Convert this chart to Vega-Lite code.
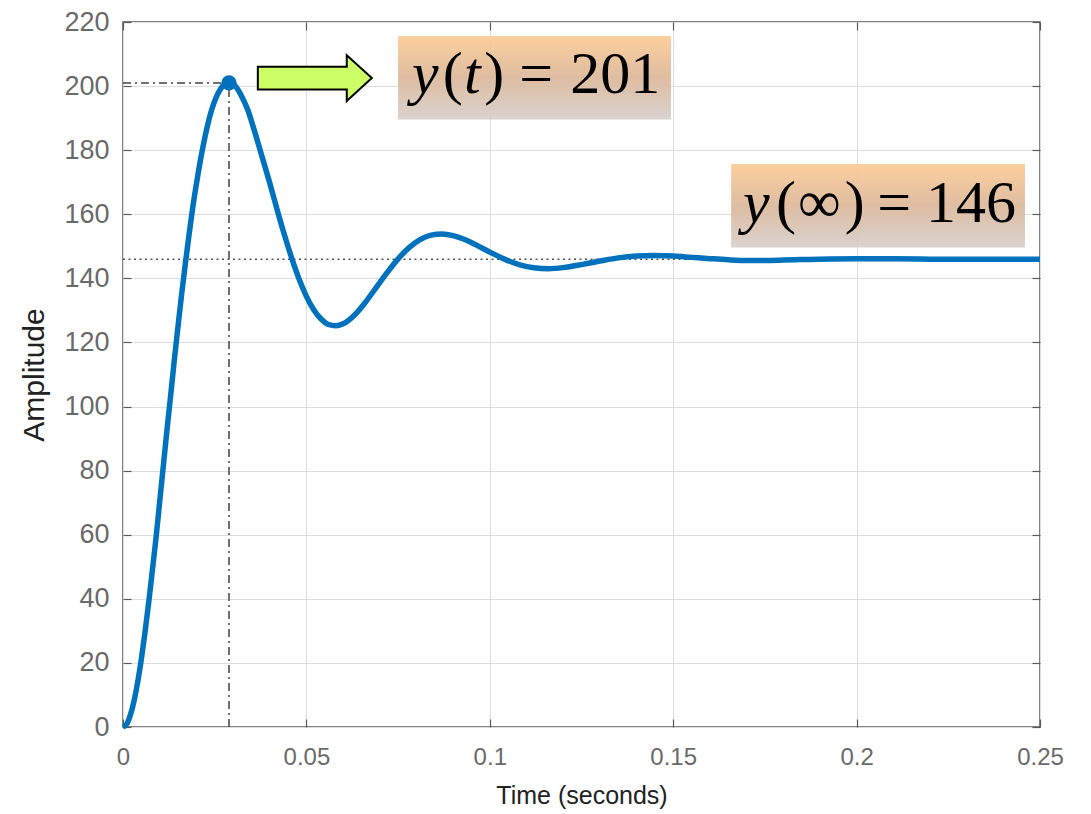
{
  "$schema": "https://vega.github.io/schema/vega-lite/v6.json",
  "width": 917,
  "height": 705,
  "autosize": {"type": "none"},
  "padding": {"left": 123, "top": 22, "right": 51, "bottom": 87},
  "background": "white",
  "config": {
    "view": {"stroke": "#5a5a5a", "strokeWidth": 1.5},
    "axis": {
      "labelFont": "Liberation Sans",
      "titleFont": "Liberation Sans",
      "labelColor": "#6a6a6a",
      "titleColor": "#222222",
      "titleFontWeight": "normal",
      "tickColor": "#5a5a5a",
      "tickWidth": 1.2,
      "domain": false,
      "labelFlush": false,
      "gridColor": "#dedede",
      "gridWidth": 1,
      "gridOpacity": 1
    }
  },
  "datasets": {
    "curve": [
      {"t": 0, "amp": 0}, {"t": 0.001, "amp": 0.9}, {"t": 0.002, "amp": 3.7}, {"t": 0.003, "amp": 8.1},
      {"t": 0.004, "amp": 14.0}, {"t": 0.005, "amp": 21.2}, {"t": 0.006, "amp": 29.5}, {"t": 0.007, "amp": 38.8},
      {"t": 0.008, "amp": 48.8}, {"t": 0.009, "amp": 59.0}, {"t": 0.010, "amp": 70.3}, {"t": 0.011, "amp": 81.5},
      {"t": 0.012, "amp": 92.8}, {"t": 0.013, "amp": 103.5}, {"t": 0.014, "amp": 114.6}, {"t": 0.015, "amp": 125.0},
      {"t": 0.016, "amp": 135.2}, {"t": 0.017, "amp": 144.6}, {"t": 0.018, "amp": 153.6}, {"t": 0.019, "amp": 162.0},
      {"t": 0.020, "amp": 169.4}, {"t": 0.022, "amp": 182.2}, {"t": 0.024, "amp": 191.9}, {"t": 0.026, "amp": 197.9},
      {"t": 0.028, "amp": 200.8}, {"t": 0.029, "amp": 201.1}, {"t": 0.030, "amp": 200.7}, {"t": 0.032, "amp": 197.6},
      {"t": 0.034, "amp": 192.6}, {"t": 0.036, "amp": 185.4}, {"t": 0.038, "amp": 177.6}, {"t": 0.040, "amp": 169.8},
      {"t": 0.042, "amp": 161.5}, {"t": 0.044, "amp": 153.6}, {"t": 0.046, "amp": 146.3}, {"t": 0.048, "amp": 139.8},
      {"t": 0.050, "amp": 134.4}, {"t": 0.052, "amp": 130.2}, {"t": 0.054, "amp": 127.3}, {"t": 0.056, "amp": 125.6},
      {"t": 0.058, "amp": 125.2}, {"t": 0.060, "amp": 125.8}, {"t": 0.063, "amp": 128.4}, {"t": 0.066, "amp": 132.4},
      {"t": 0.069, "amp": 137.1}, {"t": 0.072, "amp": 141.8}, {"t": 0.075, "amp": 146.1}, {"t": 0.078, "amp": 149.6},
      {"t": 0.081, "amp": 152.1}, {"t": 0.084, "amp": 153.5}, {"t": 0.087, "amp": 153.85}, {"t": 0.090, "amp": 153.35},
      {"t": 0.093, "amp": 152.2}, {"t": 0.096, "amp": 150.6}, {"t": 0.100, "amp": 148.2}, {"t": 0.104, "amp": 146.0},
      {"t": 0.108, "amp": 144.3}, {"t": 0.112, "amp": 143.3}, {"t": 0.116, "amp": 143.0}, {"t": 0.120, "amp": 143.35},
      {"t": 0.125, "amp": 144.3}, {"t": 0.130, "amp": 145.4}, {"t": 0.135, "amp": 146.4}, {"t": 0.140, "amp": 146.95},
      {"t": 0.145, "amp": 147.1}, {"t": 0.150, "amp": 146.95}, {"t": 0.155, "amp": 146.55}, {"t": 0.160, "amp": 146.15},
      {"t": 0.165, "amp": 145.8}, {"t": 0.170, "amp": 145.6}, {"t": 0.175, "amp": 145.6}, {"t": 0.180, "amp": 145.7},
      {"t": 0.185, "amp": 145.85}, {"t": 0.190, "amp": 146.0}, {"t": 0.200, "amp": 146.15}, {"t": 0.210, "amp": 146.1},
      {"t": 0.220, "amp": 146.0}, {"t": 0.230, "amp": 145.97}, {"t": 0.240, "amp": 145.98}, {"t": 0.250, "amp": 146.0}
    ],
    "peak": [{"t": 0.0289, "amp": 201}],
    "dashdot": [
      {"t": 0, "t2": 0.0289, "a": 201, "a2": 201},
      {"t": 0.0289, "t2": 0.0289, "a": 0, "a2": 201}
    ],
    "steady": [{"t": 0, "t2": 0.25, "a": 146}],
    "boxes": [
      {"t": 0.075, "t2": 0.1494, "a": 215.6, "a2": 189.6},
      {"t": 0.1658, "t2": 0.2459, "a": 175.7, "a2": 149.6}
    ],
    "arrow": [{"t": 0.0523, "amp": 202.5}],
    "pieces": [
      {"t": 0.0788, "a": 197.8, "txt": "y", "it": true},
      {"t": 0.0872, "a": 197.8, "txt": "(", "it": false},
      {"t": 0.0930, "a": 197.8, "txt": "t", "it": true},
      {"t": 0.0985, "a": 197.8, "txt": ")", "it": false},
      {"t": 0.1080, "a": 197.8, "txt": "=", "it": false},
      {"t": 0.1219, "a": 197.8, "txt": "201", "it": false},
      {"t": 0.1690, "a": 157.6, "txt": "y", "it": true},
      {"t": 0.1780, "a": 157.6, "txt": "(", "it": false},
      {"t": 0.1840, "a": 157.6, "txt": "∞", "it": false},
      {"t": 0.1968, "a": 157.6, "txt": ")", "it": false},
      {"t": 0.2056, "a": 157.6, "txt": "=", "it": false},
      {"t": 0.2189, "a": 157.6, "txt": "146", "it": false}
    ]
  },
  "resolve": {"axis": {"x": "independent", "y": "independent"}},
  "layer": [
    {
      "data": {"name": "curve"},
      "mark": {"type": "line", "color": "#0072BD", "strokeWidth": 0, "opacity": 0},
      "encoding": {
        "x": {
          "field": "t", "type": "quantitative",
          "scale": {"domain": [0, 0.25], "nice": false, "zero": false},
          "axis": {
            "orient": "bottom", "values": [0, 0.05, 0.1, 0.15, 0.2, 0.25], "format": "~g",
            "title": "Time (seconds)", "grid": true, "tickSize": -8,
            "labelFontSize": 24, "labelPadding": 26, "titleFontSize": 25, "titlePadding": 14
          }
        },
        "y": {
          "field": "amp", "type": "quantitative",
          "scale": {"domain": [0, 220], "nice": false, "zero": false},
          "axis": {
            "orient": "left", "values": [0, 20, 40, 60, 80, 100, 120, 140, 160, 180, 200, 220], "format": "d",
            "title": "Amplitude", "grid": true, "tickSize": -8,
            "labelFontSize": 27, "labelPadding": 22, "titleFontSize": 30, "titlePadding": 14
          }
        }
      }
    },
    {
      "data": {"name": "peak"},
      "mark": {"type": "point", "opacity": 0},
      "encoding": {
        "x": {"field": "t", "type": "quantitative",
          "axis": {"orient": "top", "values": [0, 0.05, 0.1, 0.15, 0.2, 0.25], "labels": false, "grid": false, "tickSize": -8, "title": null}},
        "y": {"field": "amp", "type": "quantitative",
          "axis": {"orient": "right", "values": [0, 20, 40, 60, 80, 100, 120, 140, 160, 180, 200, 220], "labels": false, "grid": false, "tickSize": -8, "title": null}}
      }
    },
    {
      "data": {"name": "boxes"},
      "mark": {
        "type": "rect", "opacity": 0.93,
        "fill": {"gradient": "linear", "x1": 0, "y1": 0, "x2": 0, "y2": 1,
          "stops": [{"offset": 0, "color": "#fccb96"}, {"offset": 0.5, "color": "#dcb89b"}, {"offset": 1, "color": "#d7cfca"}]}
      },
      "encoding": {
        "x": {"field": "t", "type": "quantitative", "axis": null},
        "x2": {"field": "t2"},
        "y": {"field": "a", "type": "quantitative", "axis": null},
        "y2": {"field": "a2"}
      }
    },
    {
      "data": {"name": "steady"},
      "mark": {"type": "rule", "color": "#555555", "strokeWidth": 1.5, "strokeDash": [2, 3.5]},
      "encoding": {
        "x": {"field": "t", "type": "quantitative", "axis": null},
        "x2": {"field": "t2"},
        "y": {"field": "a", "type": "quantitative", "axis": null}
      }
    },
    {
      "data": {"name": "dashdot"},
      "mark": {"type": "rule", "color": "#444444", "strokeWidth": 1.5, "strokeDash": [8, 4, 2, 4]},
      "encoding": {
        "x": {"field": "t", "type": "quantitative", "axis": null},
        "x2": {"field": "t2"},
        "y": {"field": "a", "type": "quantitative", "axis": null},
        "y2": {"field": "a2"}
      }
    },
    {
      "data": {"name": "curve"},
      "mark": {"type": "line", "color": "#0072BD", "strokeWidth": 5.5, "interpolate": "monotone"},
      "encoding": {
        "x": {"field": "t", "type": "quantitative", "axis": null},
        "y": {"field": "amp", "type": "quantitative", "axis": null}
      }
    },
    {
      "data": {"name": "peak"},
      "mark": {"type": "point", "filled": true, "color": "#0072BD", "size": 230, "opacity": 1},
      "encoding": {
        "x": {"field": "t", "type": "quantitative", "axis": null},
        "y": {"field": "amp", "type": "quantitative", "axis": null}
      }
    },
    {
      "data": {"name": "arrow"},
      "mark": {
        "type": "point", "filled": true, "fill": "#ccff66", "stroke": "#000000", "strokeWidth": 2, "opacity": 1,
        "size": 12996,
        "shape": "M -1 -0.2 L 0.56 -0.2 L 0.56 -0.4 L 1 0 L 0.56 0.4 L 0.56 0.2 L -1 0.2 Z"
      },
      "encoding": {
        "x": {"field": "t", "type": "quantitative", "axis": null},
        "y": {"field": "amp", "type": "quantitative", "axis": null}
      }
    },
    {
      "data": {"name": "pieces"},
      "transform": [{"filter": "datum.it"}],
      "mark": {"type": "text", "font": "Liberation Serif", "fontSize": 60, "fontStyle": "italic", "align": "left", "baseline": "alphabetic", "color": "#000000"},
      "encoding": {
        "x": {"field": "t", "type": "quantitative", "axis": null},
        "y": {"field": "a", "type": "quantitative", "axis": null},
        "text": {"field": "txt"}
      }
    },
    {
      "data": {"name": "pieces"},
      "transform": [{"filter": "!datum.it"}],
      "mark": {"type": "text", "font": "Liberation Serif", "fontSize": 60, "align": "left", "baseline": "alphabetic", "color": "#000000"},
      "encoding": {
        "x": {"field": "t", "type": "quantitative", "axis": null},
        "y": {"field": "a", "type": "quantitative", "axis": null},
        "text": {"field": "txt"}
      }
    }
  ]
}
